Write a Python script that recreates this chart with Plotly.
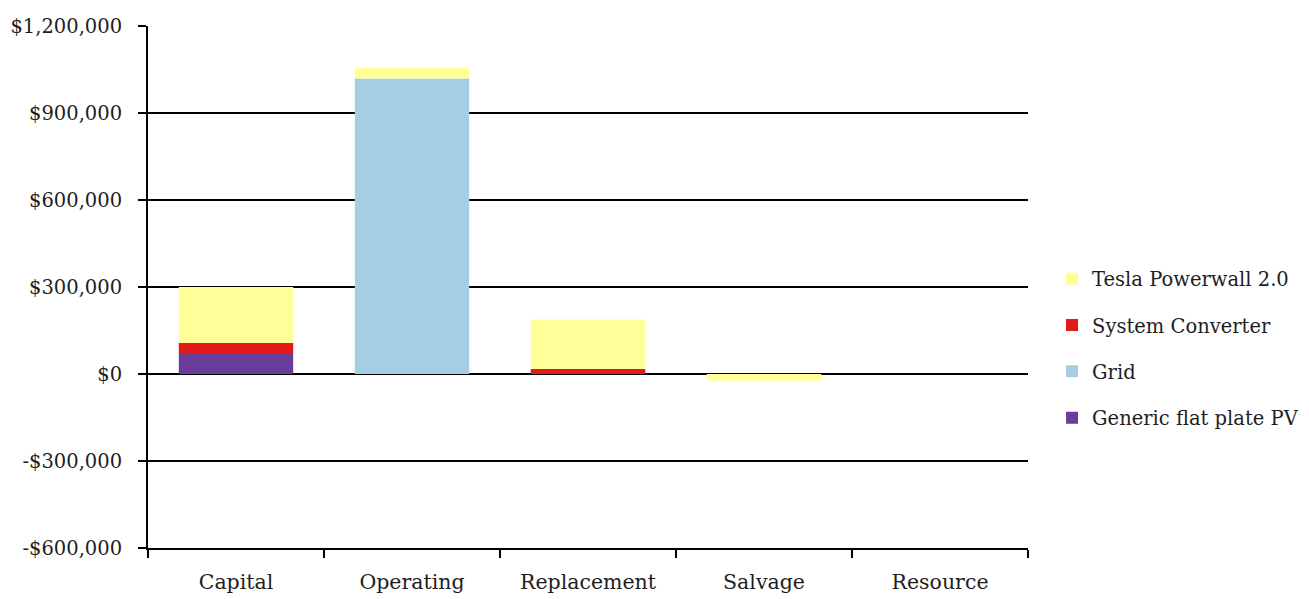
import plotly.graph_objects as go

# Cost categories along the x axis
categories = ["Capital", "Operating", "Replacement", "Salvage", "Resource"]

# Cost contribution of each component per category (USD)
pv_costs = [72000, 0, 0, 0, 0]
converter_costs = [35000, 0, 17000, 0, 0]
grid_costs = [0, 1019000, 0, 0, 0]
powerwall_costs = [193000, 38000, 171000, -23000, 0]

# Y axis ticks
y_ticks = [-600000, -300000, 0, 300000, 600000, 900000, 1200000]


def money(v):
    s = "${:,.0f}".format(abs(v))
    return "-" + s if v < 0 else s


y_tick_text = [money(v) for v in y_ticks]

# (name, values, colour, legend rank) - stacked bottom to top
series = [
    ("Generic flat plate PV", pv_costs, "#6A3D9A", 4),
    ("System Converter", converter_costs, "#E31A1C", 2),
    ("Grid", grid_costs, "#A6CEE3", 3),
    ("Tesla Powerwall 2.0", powerwall_costs, "#FFFF99", 1),
]

FONT = "DejaVu Serif"
TEXT = "#1e1e1e"

fig = go.Figure()
for name, vals, color, rank in series:
    fig.add_trace(go.Bar(
        x=categories, y=vals, name=name, legendgroup=name, legendrank=rank,
        marker=dict(color=color, line=dict(width=0)),
    ))

fig.update_layout(
    barmode="relative",
    bargap=0.35,
    width=1309, height=599,
    margin=dict(l=148, r=281, t=26, b=51, autoexpand=False),
    paper_bgcolor="white", plot_bgcolor="white",
    font=dict(family=FONT, size=20, color=TEXT),
    legend=dict(
        traceorder="grouped",
        tracegroupgap=18,
        xref="container", yref="container",
        x=0.8037, xanchor="left",
        y=0.5668, yanchor="top",
        font=dict(family=FONT, size=19.5, color=TEXT),
        itemwidth=30,
        bgcolor="rgba(0,0,0,0)",
    ),
    xaxis=dict(
        type="category",
        automargin=False,
        showline=True, linecolor="#000", linewidth=2,
        ticks="outside", tickson="boundaries", ticklen=8,
        tickcolor="#000", tickwidth=2,
        showgrid=False,
        tickfont=dict(family=FONT, size=20.5, color=TEXT),
        ticklabelstandoff=14,
    ),
    yaxis=dict(
        range=[-600000, 1200000],
        automargin=False,
        tickvals=y_ticks, ticktext=y_tick_text,
        showline=True, linecolor="#000", linewidth=2,
        ticks="outside", ticklen=8, tickcolor="#000", tickwidth=2,
        showgrid=True, gridcolor="#000", gridwidth=2,
        zeroline=True, zerolinecolor="#000", zerolinewidth=2,
        tickfont=dict(family=FONT, size=19.5, color=TEXT),
        ticklabelstandoff=12,
    ),
)

fig.write_html("out.html")
